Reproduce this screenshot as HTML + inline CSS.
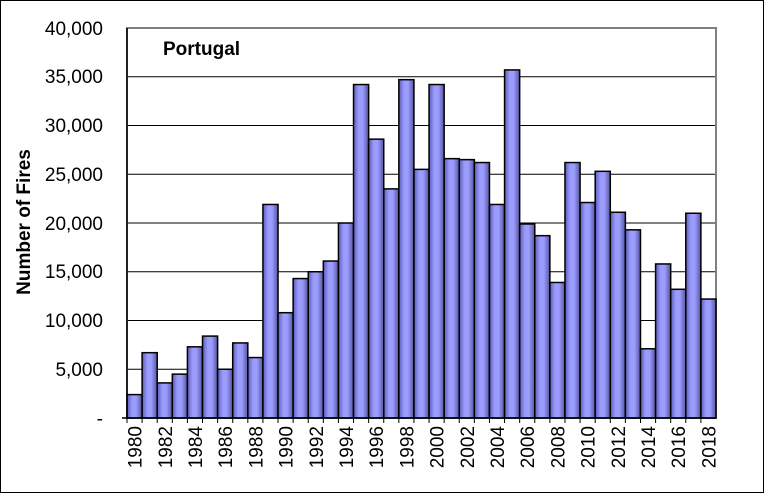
<!DOCTYPE html><html><head><style>body{margin:0;background:#fff}svg{display:block;font-family:"Liberation Sans",Arial,sans-serif}</style></head><body>
<svg width="765" height="494" xmlns="http://www.w3.org/2000/svg">
<defs><linearGradient id="g" x1="0" x2="1" y1="0" y2="0">
<stop offset="0" stop-color="#5c5cb8"/><stop offset="0.35" stop-color="#9c9cff"/><stop offset="0.6" stop-color="#9c9cff"/><stop offset="1" stop-color="#55559f"/></linearGradient></defs>
<rect x="0.5" y="0.5" width="763" height="492" fill="#fff" stroke="#000"/>
<g stroke="#000" stroke-width="1">
<line x1="127" x2="716" y1="369.25" y2="369.25"/><line x1="127" x2="716" y1="320.5" y2="320.5"/><line x1="127" x2="716" y1="271.75" y2="271.75"/><line x1="127" x2="716" y1="223" y2="223"/><line x1="127" x2="716" y1="174.25" y2="174.25"/><line x1="127" x2="716" y1="125.5" y2="125.5"/><line x1="127" x2="716" y1="76.75" y2="76.75"/>
</g>
<rect x="127" y="28" width="589" height="390" fill="none" stroke="#808080" stroke-width="2"/>
<g id="bars" stroke="#000" stroke-width="1.5" fill="url(#g)"></g>
<line x1="127" x2="127" y1="28" y2="418" stroke="#000" stroke-width="1.5"/>
<line x1="122" x2="716" y1="418" y2="418" stroke="#000" stroke-width="1.5"/>
<g id="ticks" stroke="#000"></g>
<g font-size="19" text-anchor="end" fill="#000">
<text x="103" y="425">-</text><text x="103" y="376">5,000</text><text x="103" y="327">10,000</text><text x="103" y="278">15,000</text><text x="103" y="230">20,000</text><text x="103" y="181">25,000</text><text x="103" y="132">30,000</text><text x="103" y="83">35,000</text><text x="103" y="35">40,000</text>
</g>
<g id="xl" font-size="19" text-anchor="end"></g>
<text transform="translate(30,222) rotate(-90)" font-size="19" font-weight="bold" text-anchor="middle">Number  of Fires</text>
<text x="163" y="55" font-size="19" font-weight="bold">Portugal</text>
<script>
var d=[2400,6700,3600,4500,7300,8400,5000,7700,6200,21900,10800,14300,15000,16100,20000,34200,28600,23500,34700,25500,34200,26600,26500,26200,21900,35700,19900,18700,13900,26200,22100,25300,21100,19300,7100,15800,13200,21000,12200];
var w=589/39,b=document.getElementById('bars'),t=document.getElementById('ticks'),x=document.getElementById('xl'),ns='http://www.w3.org/2000/svg';
d.forEach(function(v,i){var r=document.createElementNS(ns,'rect'),h=v*0.00975;r.setAttribute('x',127+i*w);r.setAttribute('y',418-h);r.setAttribute('width',w);r.setAttribute('height',h);b.appendChild(r);
var l=document.createElementNS(ns,'line');l.setAttribute('x1',127+i*w);l.setAttribute('x2',127+i*w);l.setAttribute('y1',418);l.setAttribute('y2',423);t.appendChild(l);
if(i%2==0){var s=document.createElementNS(ns,'text'),cx=127+(i+0.5)*w+7;s.setAttribute('transform','translate('+cx+',426) rotate(-90)');s.textContent=1980+i;x.appendChild(s);}});
</script>
</svg></body></html>
